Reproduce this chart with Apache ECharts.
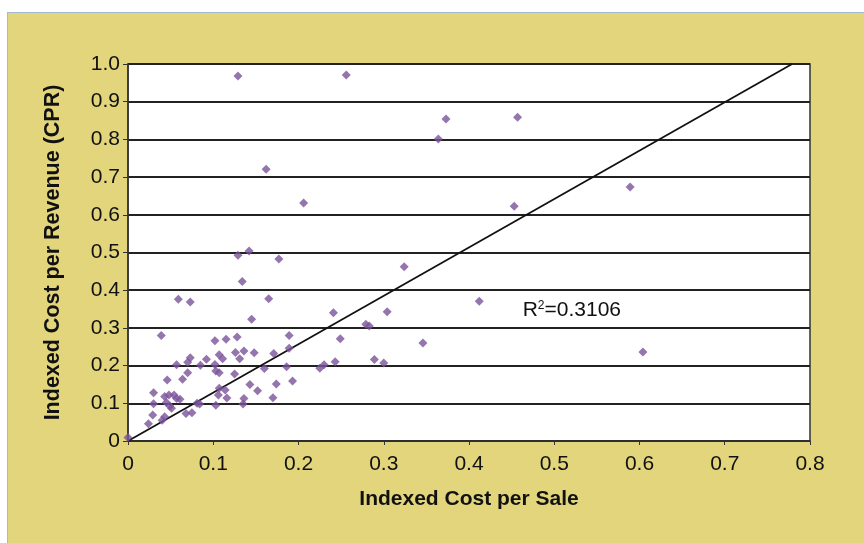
<!DOCTYPE html>
<html>
<head>
<meta charset="utf-8">
<script src="https://cdn.jsdelivr.net/npm/echarts@6/dist/echarts.min.js"></script>
<style>
  html, body { margin: 0; padding: 0; background: #ffffff; }
  #panel { position: absolute; left: 7px; top: 12px; width: 857px; height: 531px;
           background: #e2d57c; border-top: 1px solid #9fbcd4; border-left: 1px solid #9fbcd4; }
  #chart { position: absolute; left: 0; top: 0; width: 864px; height: 543px; }
</style>
</head>
<body>
<div id="panel"></div>
<div id="chart"></div>
<script>
// indexed cost per sale (x) vs indexed cost per revenue (y)
var costPerSale = [
  0.129, 0.256, 0.373, 0.457, 0.364, 0.162, 0.206, 0.589, 0.453, 0.142,
  0.129, 0.177, 0.324, 0.134, 0.059, 0.073, 0.165, 0.412, 0.241, 0.304,
  0.145, 0.279, 0.283, 0.039, 0.189, 0.249, 0.346, 0.604, 0.102, 0.115,
  0.128, 0.126, 0.136, 0.148, 0.107, 0.111, 0.131, 0.171, 0.189, 0.073,
  0.070, 0.092, 0.057, 0.085, 0.102, 0.070, 0.103, 0.107, 0.160, 0.186,
  0.225, 0.230, 0.243, 0.125, 0.046, 0.064, 0.030, 0.043, 0.048, 0.054,
  0.057, 0.061, 0.045, 0.049, 0.051, 0.030, 0.084, 0.081, 0.143, 0.152,
  0.174, 0.193, 0.107, 0.114, 0.106, 0.116, 0.136, 0.135, 0.170, 0.103,
  0.068, 0.075, 0.029, 0.043, 0.040, 0.024, 0.000, 0.289, 0.300
];
var costPerRevenue = [
  0.968, 0.971, 0.854, 0.859, 0.801, 0.721, 0.631, 0.674, 0.623, 0.504,
  0.493, 0.483, 0.462, 0.423, 0.376, 0.369, 0.377, 0.371, 0.340, 0.343,
  0.323, 0.310, 0.305, 0.280, 0.280, 0.271, 0.260, 0.236, 0.266, 0.270,
  0.276, 0.235, 0.239, 0.234, 0.229, 0.218, 0.218, 0.232, 0.246, 0.221,
  0.209, 0.217, 0.202, 0.201, 0.203, 0.181, 0.186, 0.181, 0.192, 0.197,
  0.193, 0.202, 0.210, 0.178, 0.162, 0.164, 0.128, 0.118, 0.122, 0.122,
  0.113, 0.111, 0.102, 0.093, 0.087, 0.099, 0.098, 0.100, 0.150, 0.133,
  0.151, 0.159, 0.140, 0.135, 0.122, 0.114, 0.113, 0.098, 0.115, 0.095,
  0.073, 0.075, 0.069, 0.064, 0.055, 0.046, 0.009, 0.216, 0.207
];
// linear trend line (through origin) and its R²
var trendX = [0, 0.779];
var trendY = [0, 1.0];
var rSquared = '0.3106';
var xTicks = [0, 0.1, 0.2, 0.3, 0.4, 0.5, 0.6, 0.7, 0.8];
var yTicks = [0, 0.1, 0.2, 0.3, 0.4, 0.5, 0.6, 0.7, 0.8, 0.9, 1.0];

var points = costPerSale.map(function (x, i) { return [x, costPerRevenue[i]]; });
var trend = trendX.map(function (x, i) { return [x, trendY[i]]; });

var fontFam = '"Liberation Sans", Arial, sans-serif';
var myChart = echarts.init(document.getElementById('chart'));

myChart.setOption({
  animation: false,
  grid: {
    left: 128, top: 64, right: 54, bottom: 102,
    show: true, backgroundColor: '#ffffff', borderColor: '#333333', borderWidth: 1.5
  },
  xAxis: {
    type: 'value', min: xTicks[0], max: xTicks[xTicks.length - 1], interval: 0.1,
    name: 'Indexed Cost per Sale', nameLocation: 'middle', nameGap: 48,
    nameTextStyle: { fontFamily: fontFam, fontSize: 21, fontWeight: 'bold', color: '#111' },
    axisLine: { lineStyle: { color: '#333', width: 1.5 } },
    axisTick: { show: true, length: 4, lineStyle: { color: '#333' } },
    axisLabel: {
      fontFamily: fontFam, fontSize: 21, color: '#111', margin: 13,
      formatter: function (v) { return v === 0 ? '0' : v.toFixed(1); }
    },
    splitLine: { show: false }
  },
  yAxis: {
    type: 'value', min: yTicks[0], max: yTicks[yTicks.length - 1], interval: 0.1,
    name: 'Indexed Cost per Revenue (CPR)', nameLocation: 'middle', nameGap: 64,
    nameTextStyle: { fontFamily: fontFam, fontSize: 21.5, fontWeight: 'bold', color: '#111' },
    axisLine: { show: true, lineStyle: { color: '#333', width: 1.5 } },
    axisTick: { show: true, length: 5, lineStyle: { color: '#333' } },
    axisLabel: {
      fontFamily: fontFam, fontSize: 21, color: '#111', margin: 8,
      formatter: function (v) { return v === 0 ? '0' : v.toFixed(1); }
    },
    splitLine: { show: true, lineStyle: { color: '#222', width: 2 } }
  },
  series: [
    {
      name: 'CPR', type: 'scatter', symbol: 'diamond', symbolSize: 9,
      itemStyle: { color: '#7b529a' },
      data: points, z: 3
    },
    {
      name: 'Trend', type: 'line', symbol: 'none',
      lineStyle: { color: '#111', width: 1.8 },
      data: trend, z: 2
    }
  ]
});

var labelPos = myChart.convertToPixel({ gridIndex: 0 }, [0.463, 0.348]);
myChart.setOption({
  graphic: [{
    type: 'text', left: labelPos[0], top: labelPos[1] - 10,
    style: {
      text: '{r|R}{s|2}{r|=' + rSquared + '}',
      rich: {
        r: { fontFamily: fontFam, fontSize: 21, fill: '#111' },
        s: { fontFamily: fontFam, fontSize: 12, fill: '#111', verticalAlign: 'top', padding: [0, 0, 9, 0] }
      }
    }
  }]
});
</script>
</body>
</html>
